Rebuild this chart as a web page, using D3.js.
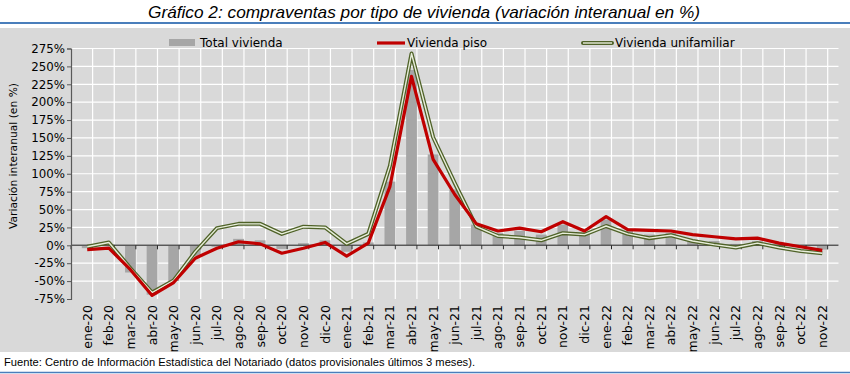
<!doctype html>
<html lang="es">
<head>
<meta charset="UTF-8">
<title>Gráfico 2</title>
<script src="https://d3js.org/d3.v7.min.js"></script>
<style>
  body { margin: 0; background: #fff; }
  svg { display: block; }
  .narrow { font-family: 'Liberation Sans Narrow', 'Arial Narrow', 'Liberation Sans', sans-serif; }
  .tick-lbl { font-family: 'DejaVu Sans', Verdana, sans-serif; font-size: 11px; fill: #000; }
</style>
</head>
<body>
<script>
const months = ["ene-20","feb-20","mar-20","abr-20","may-20","jun-20","jul-20","ago-20","sep-20","oct-20","nov-20","dic-20",
  "ene-21","feb-21","mar-21","abr-21","may-21","jun-21","jul-21","ago-21","sep-21","oct-21","nov-21","dic-21",
  "ene-22","feb-22","mar-22","abr-22","may-22","jun-22","jul-22","ago-22","sep-22","oct-22","nov-22"];

const total = [-4, 1, -38, -69, -50, -15, -2, 9, 7, -5, 3, 7,
  -9, 4, 89, 245, 127, 78, 29, 17, 20, 15, 29, 17,
  36, 20, 15, 17, 8, 6, 2, 6, 1, -2, -6];

const piso = [-6, -4, -34, -70, -52, -18, -4, 5, 2, -11, -4, 4,
  -15, 3, 82, 236, 120, 71, 30, 20, 24, 19, 33, 20,
  40, 22, 21, 20, 15, 12, 9, 10, 3, -2, -7];

const unifamiliar = [-2, 4, -32, -66, -49, -9, 24, 30, 30, 16, 26, 25,
  2, 16, 111, 268, 151, 87, 26, 13, 11, 7, 17, 15,
  27, 16, 10, 14, 6, 1, -3, 3, -3, -8, -11];

const yTicks = [-75, -50, -25, 0, 25, 50, 75, 100, 125, 150, 175, 200, 225, 250, 275];

const W = 850, H = 374;
const svg = d3.select("body").append("svg").attr("width", W).attr("height", H);

// title + blue rules
svg.append("text").attr("class", "narrow")
  .attr("x", 148).attr("y", 18)
  .attr("font-size", 17).attr("font-style", "italic")
  .attr("textLength", 552).attr("lengthAdjust", "spacingAndGlyphs")
  .text("Gráfico 2: compraventas por tipo de vivienda (variación interanual en %)");
svg.append("line").attr("x1", 0).attr("x2", W).attr("y1", 23).attr("y2", 23)
  .attr("stroke", "#4a7ebb").attr("stroke-width", 2);

// chart background
svg.append("rect").attr("x", 0).attr("y", 28).attr("width", W).attr("height", 324).attr("fill", "#d9d9d9");

const pLeft = 71, pRight = 838.5, pTop = 48.5, pBottom = 299;

const x = d3.scaleBand().domain(months).range([pLeft, pRight]).padding(0.5);
const y = d3.scaleLinear().domain([-75, 275]).range([pBottom, pTop]);
const cx = d => x(d) + x.bandwidth() / 2;

// grid
const grid = svg.append("g");
grid.selectAll(".hg").data(yTicks.slice(1)).enter().append("line")
  .attr("x1", pLeft).attr("x2", pRight)
  .attr("y1", d => y(d)).attr("y2", d => y(d))
  .attr("stroke", "#fff").attr("stroke-width", 1.2);
const step = x.step();
grid.selectAll(".vg").data(d3.range(1, months.length + 1)).enter().append("line")
  .attr("x1", i => pLeft + i * step).attr("x2", i => pLeft + i * step)
  .attr("y1", pTop).attr("y2", pBottom)
  .attr("stroke", "#fff").attr("stroke-width", 1.2);

// bars
svg.append("g").selectAll("rect").data(months).enter().append("rect")
  .attr("x", d => x(d))
  .attr("width", x.bandwidth())
  .attr("y", (d, i) => y(Math.max(0, total[i])))
  .attr("height", (d, i) => Math.abs(y(total[i]) - y(0)))
  .attr("fill", "#a6a6a6");

// zero axis with ticks at category boundaries
const zx = svg.append("g");
zx.append("line").attr("x1", pLeft).attr("x2", pRight).attr("y1", y(0)).attr("y2", y(0))
  .attr("stroke", "#595959").attr("stroke-width", 1.5);
zx.selectAll(".xt").data(d3.range(0, months.length + 1)).enter().append("line")
  .attr("x1", i => pLeft + i * step).attr("x2", i => pLeft + i * step)
  .attr("y1", y(0)).attr("y2", y(0) + 4)
  .attr("stroke", "#262626").attr("stroke-width", 1);

// y axis
const yAxis = d3.axisLeft(y).tickValues(yTicks).tickSize(4).tickFormat(d => d + "%");
const ya = svg.append("g").attr("transform", `translate(${pLeft},0)`).call(yAxis);
ya.attr("font-size", null).attr("font-family", null);
ya.select(".domain").attr("stroke", "#595959").attr("stroke-width", 1.2);
ya.selectAll(".tick line").attr("stroke", "#595959");
ya.selectAll(".tick text").attr("class", "tick-lbl").style("font-size", "11.8px").attr("x", -6);

// lines
const line = d3.line().x((d, i) => cx(months[i])).y(d => y(d));
svg.append("path").datum(unifamiliar).attr("d", line)
  .attr("fill", "none").attr("stroke", "#4f6228").attr("stroke-width", 4).attr("stroke-linejoin", "round");
svg.append("path").datum(unifamiliar).attr("d", line)
  .attr("fill", "none").attr("stroke", "#e8eedb").attr("stroke-width", 1.4).attr("stroke-linejoin", "round");
svg.append("path").datum(piso).attr("d", line)
  .attr("fill", "none").attr("stroke", "#c00000").attr("stroke-width", 3.2).attr("stroke-linejoin", "round");

// x labels
svg.append("g").selectAll("text").data(months).enter().append("text")
  .attr("class", "tick-lbl")
  .style("font-size", "12.5px")
  .attr("text-anchor", "end")
  .attr("transform", d => `translate(${cx(d) + 4.5},305) rotate(-90)`)
  .text(d => d);

// y title
svg.append("text").attr("class", "tick-lbl")
  .attr("text-anchor", "middle")
  .attr("textLength", 146).attr("lengthAdjust", "spacingAndGlyphs")
  .attr("transform", `translate(17,156) rotate(-90)`)
  .text("Variación interanual (en %)");

// legend
const lg = svg.append("g").attr("font-family", "'DejaVu Sans', Verdana, sans-serif").attr("font-size", 12);
lg.append("rect").attr("x", 169).attr("y", 39).attr("width", 26).attr("height", 7).attr("fill", "#a6a6a6");
lg.append("text").attr("x", 200).attr("y", 47).text("Total vivienda");
lg.append("line").attr("x1", 377).attr("x2", 405).attr("y1", 43).attr("y2", 43)
  .attr("stroke", "#c00000").attr("stroke-width", 3.2);
lg.append("text").attr("x", 407).attr("y", 47).text("Vivienda piso");
lg.append("line").attr("x1", 583).attr("x2", 612).attr("y1", 43).attr("y2", 43)
  .attr("stroke", "#4f6228").attr("stroke-width", 4).attr("stroke-linecap", "round");
lg.append("line").attr("x1", 583).attr("x2", 612).attr("y1", 43).attr("y2", 43)
  .attr("stroke", "#e8eedb").attr("stroke-width", 1.4);
lg.append("text").attr("x", 615).attr("y", 47).text("Vivienda unifamiliar");

// footer
svg.append("text").attr("class", "narrow")
  .attr("x", 4).attr("y", 366).attr("font-size", 11.5)
  .attr("textLength", 471).attr("lengthAdjust", "spacingAndGlyphs")
  .text("Fuente: Centro de Información Estadística del Notariado (datos provisionales últimos 3 meses).");
svg.append("line").attr("x1", 0).attr("x2", W).attr("y1", 372.5).attr("y2", 372.5)
  .attr("stroke", "#4a7ebb").attr("stroke-width", 1.5);
</script>
</body>
</html>
